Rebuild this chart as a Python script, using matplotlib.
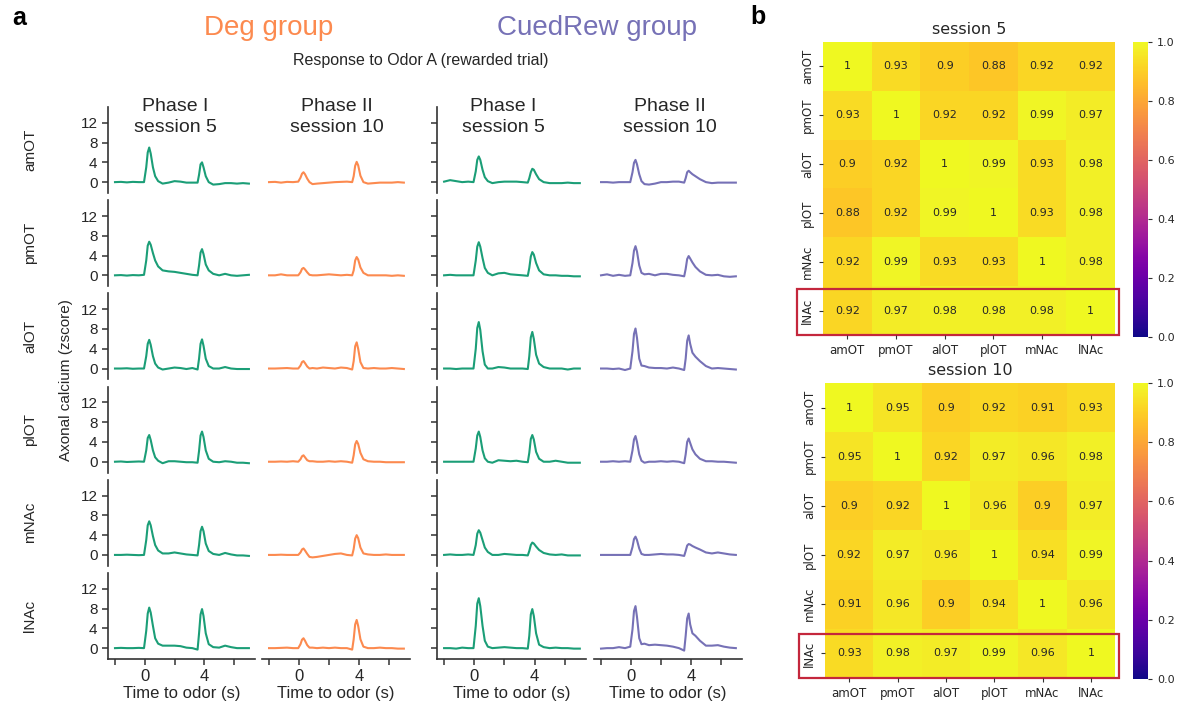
import numpy as np
import matplotlib
matplotlib.use('Agg')
import matplotlib.pyplot as plt
from matplotlib.patches import Rectangle

plt.rcParams['font.family'] = ['Liberation Sans', 'DejaVu Sans']

# ---- data -------------------------------------------------------------
regions = ['amOT', 'pmOT', 'alOT', 'plOT', 'mNAc', 'lNAc']
col_titles = ['Phase I\nsession 5', 'Phase II\nsession 10', 'Phase I\nsession 5', 'Phase II\nsession 10']

# time to odor (s), shared by every trace
t_pts = [-2.0, -1.6, -1.2, -0.8, -0.4, -0.05, 0.1, 0.2, 0.3, 0.4, 0.55, 0.7, 0.9, 1.2, 1.6, 2.0, 2.4,
         2.8, 3.2, 3.55, 3.65, 3.75, 3.85, 3.95, 4.1, 4.3, 4.6, 5.0, 5.4, 5.8, 6.2, 6.6, 7.0]

# Deg group, phase I session 5 (rows = regions)
deg_s5 = [
    [0.0, 0.05, -0.05, 0.05, 0.0, 0.0, 3.0, 6.0, 7.0, 5.8, 3.0, 1.2, 0.2, -0.3, -0.1, 0.2, 0.1, -0.1, -0.1, -0.1, 1.5, 3.6, 4.0, 3.0, 1.2, 0.0, -0.5, -0.4, -0.2, -0.2, -0.3, -0.2, -0.3],
    [0.0, 0.05, -0.05, 0.05, 0.0, 0.1, 3.0, 6.0, 6.8, 6.2, 4.5, 3.0, 1.8, 1.0, 0.8, 0.7, 0.5, 0.3, 0.1, 0.0, 2.0, 4.6, 5.3, 4.3, 2.2, 1.0, 0.3, 0.0, 0.3, 0.0, -0.1, 0.0, 0.1],
    [0.0, 0.0, 0.05, -0.05, 0.0, 0.0, 2.5, 5.0, 5.8, 4.8, 2.5, 1.0, 0.2, -0.2, 0.0, 0.2, 0.1, -0.1, 0.1, -0.2, 2.0, 5.0, 5.9, 4.6, 2.0, 0.5, 0.0, 0.0, 0.3, 0.0, -0.1, -0.1, -0.1],
    [0.0, 0.05, -0.05, 0.0, 0.05, 0.0, 2.3, 4.8, 5.4, 4.4, 2.3, 0.9, 0.2, -0.3, 0.1, 0.1, 0.0, -0.1, -0.1, -0.2, 2.2, 5.3, 6.1, 5.0, 2.3, 0.6, 0.0, -0.1, 0.1, 0.0, -0.2, -0.2, -0.3],
    [0.0, 0.0, 0.05, 0.0, -0.05, 0.0, 3.0, 6.0, 6.8, 6.0, 3.8, 2.0, 0.9, 0.3, 0.3, 0.5, 0.3, 0.1, 0.0, -0.1, 2.0, 4.8, 5.7, 4.8, 2.3, 0.8, 0.2, 0.0, 0.4, 0.1, -0.1, -0.1, -0.2],
    [0.0, 0.05, 0.0, 0.0, 0.05, 0.0, 3.5, 7.0, 8.2, 7.2, 4.5, 2.0, 0.9, 0.5, 0.5, 0.5, 0.4, 0.1, 0.0, -0.3, 3.0, 6.8, 7.9, 6.5, 3.0, 0.8, 0.2, 0.1, 0.5, 0.2, 0.0, 0.0, 0.0],
]

# Deg group, phase II session 10
deg_s10 = [
    [0.0, 0.05, -0.1, 0.05, 0.0, 0.1, 0.9, 1.7, 2.0, 1.6, 0.7, 0.0, -0.4, -0.3, -0.2, -0.1, 0.0, 0.05, 0.1, 0.0, 1.2, 3.3, 4.1, 3.4, 1.3, 0.0, -0.3, -0.2, -0.1, -0.1, -0.1, 0.0, -0.1],
    [0.0, 0.0, 0.2, 0.0, 0.0, 0.0, 0.6, 1.3, 1.5, 1.2, 0.6, 0.1, 0.0, 0.0, 0.1, 0.2, 0.1, 0.0, 0.1, 0.0, 1.0, 3.0, 3.7, 3.2, 1.6, 0.5, 0.0, 0.0, 0.0, 0.0, -0.1, 0.0, -0.1],
    [0.0, 0.0, 0.05, 0.1, 0.0, 0.0, 0.6, 1.3, 1.5, 1.1, 0.4, 0.0, 0.1, 0.0, 0.2, 0.1, 0.0, 0.2, 0.1, -0.2, 1.5, 4.5, 5.3, 4.0, 1.3, 0.1, 0.0, 0.1, 0.0, 0.0, 0.1, 0.0, -0.1],
    [0.0, 0.0, 0.05, 0.0, 0.1, 0.0, 0.5, 1.1, 1.3, 0.9, 0.3, 0.1, 0.1, 0.0, 0.0, 0.1, 0.0, 0.1, 0.0, -0.2, 1.3, 3.5, 4.2, 3.6, 1.8, 0.5, 0.1, 0.0, 0.0, -0.1, -0.1, -0.1, -0.1],
    [0.0, 0.0, 0.05, 0.0, 0.0, 0.0, 0.5, 1.1, 1.3, 0.9, 0.2, -0.4, -0.5, -0.4, -0.2, 0.0, 0.2, 0.3, 0.0, -0.1, 1.2, 3.3, 4.0, 3.4, 1.5, 0.3, 0.1, 0.0, 0.0, 0.1, 0.0, 0.0, 0.0],
    [0.0, 0.0, 0.05, 0.1, 0.0, 0.0, 0.8, 1.7, 2.0, 1.5, 0.6, 0.1, 0.1, 0.0, 0.1, 0.0, 0.1, 0.0, 0.0, -0.3, 1.8, 4.8, 5.7, 4.5, 1.8, 0.3, 0.0, 0.0, 0.1, 0.0, 0.0, -0.1, -0.1],
]

# CuedRew group, phase I session 5
cue_s5 = [
    [0.1, 0.4, 0.2, 0.0, 0.1, 0.0, 2.2, 4.5, 5.2, 4.5, 2.5, 1.0, 0.2, -0.2, 0.0, 0.1, 0.1, 0.1, 0.0, -0.1, 0.8, 2.0, 2.7, 2.5, 1.6, 0.6, 0.0, -0.2, -0.2, -0.2, -0.1, -0.2, -0.2],
    [0.0, 0.1, 0.0, 0.0, 0.0, 0.0, 3.0, 5.8, 6.7, 5.8, 3.5, 1.5, 0.5, 0.0, 0.4, 0.5, 0.2, 0.1, 0.0, -0.1, 1.5, 3.8, 4.7, 4.2, 2.5, 1.0, 0.2, 0.0, 0.0, -0.1, -0.1, -0.2, -0.2],
    [0.0, 0.0, -0.1, 0.0, 0.0, 0.0, 4.0, 8.2, 9.4, 7.8, 3.5, 0.8, 0.0, 0.0, 0.3, 0.2, 0.0, 0.0, 0.0, -0.1, 2.5, 6.3, 7.4, 6.0, 2.8, 1.0, 0.3, 0.0, 0.0, 0.0, -0.2, 0.0, 0.0],
    [0.0, 0.0, 0.0, 0.0, 0.0, 0.0, 2.7, 5.3, 6.1, 5.0, 2.3, 0.7, 0.0, -0.2, 0.3, 0.2, 0.1, 0.2, 0.0, -0.1, 1.8, 4.6, 5.4, 4.5, 2.0, 0.6, 0.0, 0.0, 0.2, 0.0, -0.2, -0.2, -0.2],
    [0.0, 0.1, 0.0, 0.0, 0.1, 0.0, 2.0, 4.3, 5.0, 4.5, 3.0, 1.5, 0.6, 0.0, 0.0, 0.2, 0.1, 0.0, 0.0, -0.1, 0.8, 2.0, 2.5, 2.3, 1.7, 1.0, 0.4, 0.1, 0.0, 0.1, -0.1, -0.1, -0.1],
    [0.0, 0.0, -0.1, 0.1, 0.0, 0.0, 4.5, 9.0, 10.1, 8.5, 4.5, 1.5, 0.3, 0.0, 0.1, 0.2, 0.1, 0.0, 0.0, -0.1, 2.5, 6.8, 7.9, 6.5, 3.0, 0.7, 0.2, 0.0, 0.1, 0.0, 0.0, -0.1, -0.1],
]

# CuedRew group, phase II session 10
cue_s10 = [
    [0.0, 0.0, -0.1, 0.0, 0.0, 0.0, 2.0, 3.9, 4.5, 3.6, 1.6, 0.2, -0.4, -0.5, -0.3, 0.0, 0.0, 0.1, 0.1, -0.1, 0.8, 2.0, 2.3, 2.0, 1.6, 1.2, 0.6, 0.0, -0.2, -0.1, -0.1, -0.1, -0.1],
    [0.0, 0.2, -0.1, 0.1, -0.1, 0.0, 2.5, 5.0, 5.9, 4.8, 2.0, 0.5, 0.2, 0.3, 0.0, 0.3, 0.3, 0.1, 0.0, -0.2, 1.3, 3.3, 3.9, 3.4, 2.6, 1.7, 0.8, 0.1, 0.0, 0.1, -0.2, -0.3, -0.2],
    [0.0, 0.0, -0.1, 0.0, -0.3, 0.0, 3.5, 7.0, 8.1, 6.2, 2.0, 0.6, 0.5, 0.2, 0.1, 0.1, 0.0, 0.2, 0.0, -0.3, 2.0, 5.6, 6.7, 5.0, 3.2, 2.4, 1.5, 0.5, 0.0, 0.1, 0.0, -0.1, -0.2],
    [0.0, 0.0, 0.1, 0.0, 0.1, 0.0, 2.3, 4.5, 5.2, 4.0, 1.5, 0.2, -0.2, 0.0, 0.0, 0.1, 0.0, 0.1, 0.0, -0.3, 1.5, 4.0, 4.7, 3.8, 2.5, 1.5, 0.6, 0.1, 0.1, 0.0, 0.0, -0.1, -0.2],
    [0.0, 0.0, 0.0, 0.0, 0.0, 0.0, 1.6, 3.2, 3.7, 3.0, 1.3, 0.2, 0.0, 0.0, 0.1, 0.2, 0.1, 0.1, 0.0, -0.2, 0.8, 1.9, 2.2, 2.1, 1.8, 1.5, 1.1, 0.5, 0.3, 0.5, 0.3, 0.1, 0.0],
    [-0.1, 0.0, 0.0, 0.2, 0.0, 0.3, 3.8, 7.5, 8.5, 6.3, 2.0, 0.8, 0.9, 0.6, 0.7, 0.6, 0.5, 0.3, 0.0, -0.5, 2.5, 6.0, 7.0, 4.8, 3.0, 2.5, 1.5, 0.5, 0.5, 0.6, 0.3, 0.1, 0.0],
]

# correlation matrices (panel b)
corr_s5 = [[1, 0.93, 0.9, 0.88, 0.92, 0.92],
           [0.93, 1, 0.92, 0.92, 0.99, 0.97],
           [0.9, 0.92, 1, 0.99, 0.93, 0.98],
           [0.88, 0.92, 0.99, 1, 0.93, 0.98],
           [0.92, 0.99, 0.93, 0.93, 1, 0.98],
           [0.92, 0.97, 0.98, 0.98, 0.98, 1]]
corr_s10 = [[1, 0.95, 0.9, 0.92, 0.91, 0.93],
            [0.95, 1, 0.92, 0.97, 0.96, 0.98],
            [0.9, 0.92, 1, 0.96, 0.9, 0.97],
            [0.92, 0.97, 0.96, 1, 0.94, 0.99],
            [0.91, 0.96, 0.9, 0.94, 1, 0.96],
            [0.93, 0.98, 0.97, 0.99, 0.96, 1]]

GREEN = '#1b9e77'
ORANGE = '#fc8a4f'
PURPLE = '#7671b6'
DARK = '#262626'

# ---- figure -----------------------------------------------------------
W, H = 1178, 709
fig = plt.figure(figsize=(W / 100, H / 100), dpi=100)


def rect(x0, y0, x1, y1):
    # pixel box (top-left origin) -> figure fraction
    return [x0 / W, 1 - y1 / H, (x1 - x0) / W, (y1 - y0) / H]


# panel a: traces
traces = [deg_s5, deg_s10, cue_s5, cue_s10]
colors = [GREEN, ORANGE, GREEN, PURPLE]
col_x = [(108, 255), (262, 410), (437, 586), (594, 742)]
title_x = [175, 337, 503, 670]

for c in range(4):
    for r in range(6):
        top = 107 + 93.2 * r
        ax = fig.add_axes(rect(col_x[c][0], top, col_x[c][1], top + 86))
        ax.plot(t_pts, traces[c][r], color=colors[c], lw=1.5)
        ax.set_xlim(-2.47, 7.41)
        ax.set_ylim(-2.2, 15.2)
        ax.patch.set_alpha(0)
        for s in ['top', 'right']:
            ax.spines[s].set_visible(False)
        ax.spines['left'].set_visible(c in (0, 2))
        ax.spines['left'].set_linewidth(1.2)
        ax.spines['left'].set_color('#333333')
        ax.spines['bottom'].set_linewidth(1.2)
        ax.spines['bottom'].set_color('#333333')
        ax.tick_params(colors='#333333', labelcolor=DARK, length=4, width=1.1, labelsize=11)
        if c in (0, 2):
            ax.set_yticks([0, 4, 8, 12])
            if c == 2:
                ax.set_yticklabels([])
        else:
            ax.set_yticks([])
        if r == 5:
            ax.set_xticks([-2, 0, 2, 4, 6])
            ax.set_xticklabels(['', '0', '', '4', ''], fontsize=12)
            ax.set_xlabel('Time to odor (s)', fontsize=12, color=DARK, labelpad=1)
        else:
            ax.spines['bottom'].set_visible(False)
            ax.set_xticks([])
        if c == 0:
            fig.text(30 / W, 1 - (top + 43) / H, regions[r], rotation=90, fontsize=11,
                     ha='center', va='center', color=DARK)

    fig.text(title_x[c] / W, 1 - 117 / H, col_titles[c], fontsize=14, ha='center',
             va='center', linespacing=1.25, color=DARK)

fig.text(66 / W, 1 - 380 / H, 'Axonal calcium (zscore)', rotation=90, fontsize=11,
         ha='center', va='center', color=DARK)
fig.text(269 / W, 1 - 28 / H, 'Deg group', fontsize=20, color=ORANGE, ha='center', va='center')
fig.text(597 / W, 1 - 28 / H, 'CuedRew group', fontsize=20, color=PURPLE, ha='center', va='center')
fig.text(421 / W, 1 - 61 / H, 'Response to Odor A (rewarded trial)', fontsize=11.5,
         color=DARK, ha='center', va='center')
fig.text(12 / W, 1 - 18 / H, 'a', fontsize=18, fontweight='bold', ha='left', va='center')
fig.text(750 / W, 1 - 17 / H, 'b', fontsize=18, fontweight='bold', ha='left', va='center')

# panel b: correlation heatmaps
hm_boxes = [((823, 42, 1115, 335), (1133, 42, 1148, 337), 'session 5', corr_s5, 4.56),
            ((825, 383, 1115, 678), (1133, 383, 1148, 679), 'session 10', corr_s10, 4.6)]

for box, cbox, title, mat, ytop in hm_boxes:
    ax = fig.add_axes(rect(*box))
    im = ax.imshow(np.array(mat), cmap='plasma', vmin=0, vmax=1, aspect='auto')
    for i in range(6):
        for j in range(6):
            v = mat[i][j]
            ax.text(j, i, f'{v:g}', ha='center', va='center', fontsize=8,
                    family='DejaVu Sans', color=DARK)
    ax.set_xticks(range(6))
    ax.set_yticks(range(6))
    ax.set_xticklabels(regions, fontsize=8.5, family='DejaVu Sans')
    ax.set_yticklabels(regions, fontsize=8.5, family='DejaVu Sans', rotation=90, va='center')
    ax.tick_params(length=3, width=0.8, colors='#333333', labelcolor=DARK)
    for s in ax.spines.values():
        s.set_visible(False)
    ax.set_title(title, fontsize=11.5, family='DejaVu Sans', color=DARK, pad=6)
    ax.add_patch(Rectangle((-1.03, ytop), 6.61, 5.5 - ytop, fill=False,
                           edgecolor='#c4273c', lw=1.6, clip_on=False))
    cax = fig.add_axes(rect(*cbox))
    cb = fig.colorbar(im, cax=cax, ticks=[0, 0.2, 0.4, 0.6, 0.8, 1.0])
    cb.outline.set_visible(False)
    cb.ax.set_yticklabels(['0.0', '0.2', '0.4', '0.6', '0.8', '1.0'], fontsize=8,
                          family='DejaVu Sans')
    cb.ax.tick_params(length=3, width=0.8, colors='#333333', labelcolor=DARK)

fig.savefig('out.png', dpi=100)
